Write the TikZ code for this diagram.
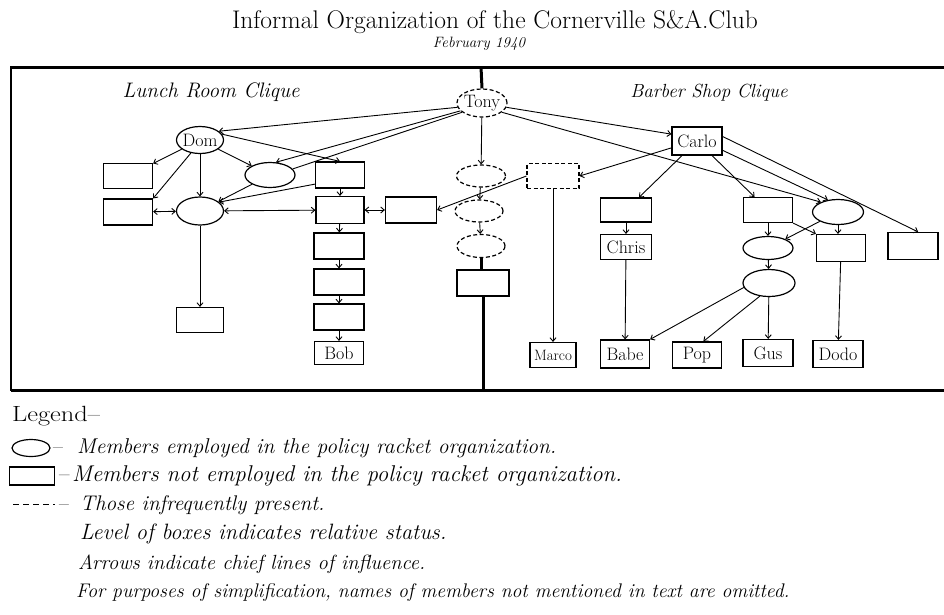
\documentclass[tikz,border=0pt]{standalone}
\usetikzlibrary{arrows.meta,shapes.geometric,calc}
\newcommand{\nmz}[1]{\makebox[0pt]{#1}}
\begin{document}
\begin{tikzpicture}[x=1pt,y=-1pt,
  every node/.style={inner sep=0pt},
  namefont/.style={font=\fontsize{18}{20}\selectfont},
  sq/.style={draw, line width=1.2pt, rectangle, minimum width=50pt, minimum height=26pt, namefont},
  ov/.style={draw, line width=1.2pt, ellipse, minimum width=50pt, minimum height=25pt, namefont},
  dsq/.style={sq, dash pattern=on 4pt off 2.5pt},
  dov/.style={ov, dash pattern=on 4pt off 2.5pt},
  ar/.style={line width=0.9pt, -{Straight Barb[length=3.5pt,width=6pt]}},
  dar/.style={line width=0.9pt, {Straight Barb[length=3.5pt,width=6pt]}-{Straight Barb[length=3.5pt,width=6pt]}},
  ln/.style={line width=0.9pt},
  divline/.style={line width=3pt},
  frameline/.style={line width=3pt},
  legtext/.style={anchor=west, font=\itshape\fontsize{21}{24}\selectfont},
  cliquetext/.style={font=\itshape\fontsize{21}{24}\selectfont}
]
\useasboundingbox (0,0) rectangle (944,614);

% title
\node[font=\fontsize{25.5}{30}\selectfont] (title) at (495,22) {Informal Organization of the Cornerville S\&A.Club};
\node[font=\itshape\fontsize{15}{17}\selectfont] (date) at (479,44) {February 1940};

% frame
\draw[frameline] (944,67) -- (11,67);
\draw[frameline] (11,390) -- (944,390);
\draw[line width=2pt] (11,66) -- (11,391);
\coordinate (topdiv) at (481,67);
\coordinate (botdiv) at (483,390);

% clique labels
\node[cliquetext] (lrc) at (211,92) {Lunch Room Clique};
\node[cliquetext, font=\itshape\fontsize{19}{22}\selectfont] (bsc) at (709,93) {Barber Shop Clique};

% centre column
\node[dov, minimum width=50pt, minimum height=28pt] (Tony) at (482,103) {\nmz{Tony}};
\node[dov, minimum width=49pt, minimum height=22pt] (D1) at (481,176) {};
\node[dov, minimum width=48pt, minimum height=22pt] (D2) at (479,211) {};
\node[dov, minimum width=48pt, minimum height=23pt] (D3) at (481,246) {};
\node[sq, minimum width=52pt, minimum height=26pt] (C) at (483,283) {};
\node[dsq, minimum width=52pt, minimum height=25pt] (DB) at (553,176) {};
\node[sq, minimum width=46pt, minimum height=25pt, font=\fontsize{15}{17}\selectfont] (Marco) at (553,355) {\nmz{Marco}};

% lunch room clique
\node[ov, minimum width=47pt, minimum height=27pt] (Dom) at (200,140) {\nmz{Dom}};
\node[sq, minimum width=49pt, minimum height=25pt] (L1) at (128,176) {};
\node[sq, minimum width=49pt, minimum height=26pt] (L2) at (128,212) {};
\node[ov, minimum width=47pt, minimum height=28pt] (E1) at (200,211) {};
\node[ov, minimum width=50pt, minimum height=25pt] (E2) at (270,175) {};
\node[sq, minimum width=49pt, minimum height=26pt] (B1) at (340,175) {};
\node[sq, minimum width=48pt, minimum height=27pt] (B2) at (340,210) {};
\node[sq, minimum width=51pt, minimum height=26pt] (R) at (411,210) {};
\node[sq, minimum width=50pt, minimum height=26pt] (B3) at (339,246) {};
\node[sq, minimum width=50pt, minimum height=26pt] (B4) at (339,282) {};
\node[sq, minimum width=50pt, minimum height=26pt] (B5) at (339,317) {};
\node[sq, minimum width=49pt, minimum height=23pt] (Bob) at (339,353) {\nmz{Bob}};
\node[sq, minimum width=47pt, minimum height=25pt] (LB) at (200,320) {};

% barber shop clique
\node[sq, minimum width=50pt, minimum height=28pt] (Carlo) at (697,141) {\nmz{Carlo}};
\node[sq, minimum width=51pt, minimum height=24pt] (R1) at (626,210) {};
\node[sq, minimum width=51pt, minimum height=25pt] (Chris) at (626,247) {\nmz{Chris}};
\node[sq, minimum width=49pt, minimum height=25pt] (R2) at (768,210) {};
\node[ov, minimum width=51pt, minimum height=25pt] (RE1) at (838,212) {};
\node[ov, minimum width=50pt, minimum height=23pt] (RE2) at (768,248) {};
\node[sq, minimum width=49pt, minimum height=27pt] (R3) at (841,248) {};
\node[sq, minimum width=50pt, minimum height=27pt] (R4) at (913,246) {};
\node[ov, minimum width=52pt, minimum height=27pt] (RE3) at (769,283) {};
\node[sq, minimum width=49pt, minimum height=28pt] (Babe) at (625,354) {\nmz{Babe}};
\node[sq, minimum width=49pt, minimum height=26pt] (Pop) at (697,355) {\nmz{Pop}};
\node[sq, minimum width=50pt, minimum height=27pt] (Gus) at (768,353) {\nmz{Gus}};
\node[sq, minimum width=50pt, minimum height=27pt] (Dodo) at (838,354) {\nmz{Dodo}};

% divider
\draw[divline] (topdiv) -- (Tony.north);
\draw[divline] (D3.south) -- (D3.south |- C.north);
\draw[divline] (C.south) -- (C.south |- botdiv);

% Tony edges
\draw[ar] (Tony.190) -- (Dom.25);
\draw[ar] (Tony.200) -- (E2.65);
\draw[ln] (Tony.205) -- (E2.15);
\draw[ar] (Tony) -- (D1);
\draw[ar] (Tony.-10) -- (Carlo.165);
\draw[ar] (Tony.-25) -- (RE1.150);

% centre
\draw[ar] (D1) -- (D2);
\draw[ar] (D2) -- (D3);
\draw[ar] (DB.west) -- (R.east);
\draw[ar] (DB) -- (Marco);

% Dom edges
\draw[ar] (Dom) -- (L1);
\draw[ar] (Dom.235) -- (L2.north east);
\draw[ar] (Dom) -- (E1);
\draw[ar] (Dom) -- (E2);
\draw[ar] (Dom.15) -- (B1.north);
\draw[dar] (L2) -- (E1);
\draw[ar] (E2) -- (E1);
\draw[ar] (B1.200) -- (E1.25);
\draw[dar] (E1) -- (B2);
\draw[dar] (B2) -- (R);
\draw[ar] (B1) -- (B2);
\draw[ar] (B2) -- (B3);
\draw[ar] (B3) -- (B4);
\draw[ar] (B4) -- (B5);
\draw[ar] (B5) -- (Bob);
\draw[ar] (E1) -- (LB);

% Carlo edges
\draw[ar] (Carlo.195) -- (DB.east);
\draw[ar] (Carlo) -- (R1);
\draw[ar] (Carlo) -- (R2);
\draw[ar] (Carlo.-20) -- (RE1.130);
\draw[ar] (Carlo.10) -- (R4.70);
\draw[ar] (R1) -- (Chris);
\draw[ar] (R2) -- (RE2);
\draw[ar] (R2.south east) -- (R3.north west);
\draw[ar] (RE1) -- (RE2);
\draw[ar] (RE1.south) -- (RE1.south |- R3.north);
\draw[ar] (RE2) -- (RE3);
\draw[ar] (RE3.190) -- (Babe.north east);
\draw[ar] (RE3.235) -- (Pop.65);
\draw[ar] (RE3) -- (Gus);
\draw[ar] (R3) -- (Dodo);
\draw[ar] (Chris) -- (Babe);

% legend
\node[anchor=west, font=\fontsize{22}{26}\selectfont] (leg) at (12,416) {\scalebox{1.2}[1]{Legend--}};
\node[draw, line width=1.2pt, ellipse, minimum width=38pt, minimum height=17pt] (lov) at (31,448) {};
\node[legtext, font=\itshape\fontsize{21.4}{25}\selectfont] (t1) at (53,448) {\makebox[24pt][l]{\upshape--}Members employed in the policy racket organization.};
\node[draw, line width=1.2pt, rectangle, minimum width=45pt, minimum height=18pt] (lsq) at (32,476) {};
\node[legtext, font=\itshape\fontsize{22.8}{26}\selectfont] (t2) at (59,476) {\makebox[13pt][l]{\upshape--}Members not employed in the policy racket organization.};
\coordinate (ld1) at (13,504);
\coordinate (ld2) at (55,504);
\draw[line width=1pt, dash pattern=on 6pt off 4pt] (ld1) -- (ld2);
\node[legtext, font=\itshape\fontsize{21.2}{25}\selectfont] (t3) at (59,505) {\makebox[21pt][l]{\upshape--}Those infrequently present.};
\node[legtext, font=\itshape\fontsize{22.2}{26}\selectfont] (t4) at (80,534) {Level of boxes indicates relative status.};
\node[legtext, font=\itshape\fontsize{20.5}{24}\selectfont] (t5) at (78,564) {Arrows indicate chief lines of influence.};
\node[legtext, font=\itshape\fontsize{19.7}{23}\selectfont] (t6) at (76,593) {For purposes of simplification, names of members not mentioned in text are omitted.};
\end{tikzpicture}
\end{document}
